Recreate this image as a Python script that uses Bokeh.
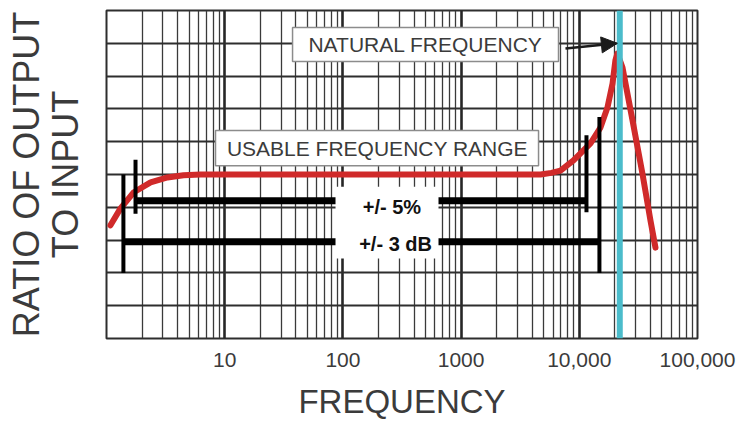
from bokeh.plotting import figure
from bokeh.models import FixedTicker, LinearAxis, Span, Arrow, NormalHead
from bokeh.core.properties import value
from bokeh.embed import file_html
from bokeh.resources import INLINE

# Accelerometer response: frequency (Hz) vs ratio of output to input
freq = [1.08, 1.31, 1.69, 2.36, 3.28, 4.48, 6.24, 4700, 5800, 6930, 8930,
        12440, 15100, 17300, 19100, 20200, 21000, 23200, 28200, 34200,
        40000, 44100]
ratio = [3.45, 3.96, 4.45, 4.76, 4.91, 4.98, 5.0, 5.0, 5.05, 5.12, 5.43,
         5.95, 6.43, 7.04, 7.77, 8.48, 8.69, 8.26, 6.65, 5.03, 3.60, 2.77]

natural_freq = 22000

# Tolerance bands: level of the bar, frequency span, and end-marker extents
tol_labels = ["+/- 5%", "+/- 3 dB"]
tol_level = [4.2, 2.95]
tol_start = [1.76, 1.39]
tol_end = [11500, 14800]
tol_start_lo = [3.8, 2.0]
tol_start_hi = [5.45, 5.0]
tol_end_lo = [3.85, 2.0]
tol_end_hi = [6.2, 6.75]

x_ticks = [10, 100, 1000, 10000, 100000]
x_tick_labels = ["10", "100", "1000", "10,000", "100,000"]
decades = [1, 10, 100, 1000, 10000, 100000]
minor_freqs = [m * d for d in decades[:-1] for m in range(2, 10)]
ratio_grid = list(range(0, 11))

TEXT = "#3b3b3b"
SANS = "Liberation Sans"

p = figure(width=747, height=423, x_axis_type="log",
           x_range=(1, 100000), y_range=(0, 10),
           y_axis_location=None, toolbar_location=None,
           output_backend="svg",
           min_border_left=106, min_border_right=50,
           min_border_top=10, min_border_bottom=85)
p.background_fill_color = "white"
p.border_fill_color = "white"
p.outline_line_color = "#2e2e2e"
p.outline_line_width = 2

# log-paper grid
p.xgrid.ticker = FixedTicker(ticks=decades, minor_ticks=minor_freqs)
p.xgrid.grid_line_color = "#262626"
p.xgrid.grid_line_width = 2.6
p.xgrid.minor_grid_line_color = "#3a3a3a"
p.xgrid.minor_grid_line_width = 1.3
p.ygrid.ticker = FixedTicker(ticks=ratio_grid)
p.ygrid.grid_line_color = "#2e2e2e"
p.ygrid.grid_line_width = 1.8

ax = p.xaxis[0]
ax.ticker = FixedTicker(ticks=x_ticks)
ax.major_label_overrides = dict(zip(x_ticks, x_tick_labels))
ax.axis_line_color = None
ax.major_tick_line_color = None
ax.minor_tick_line_color = None
ax.major_tick_out = 0
ax.major_tick_in = 0
ax.major_label_standoff = 14
ax.major_label_text_font = SANS
ax.major_label_text_font_size = "21px"
ax.major_label_text_color = TEXT
ax.axis_label = "FREQUENCY"
ax.axis_label_standoff = 13
ax.axis_label_text_font = SANS
ax.axis_label_text_font_size = "33px"
ax.axis_label_text_font_style = "normal"
ax.axis_label_text_color = TEXT

# left axis carries only the two-line title
yax = LinearAxis(ticker=FixedTicker(ticks=[]),
                 axis_label="RATIO OF OUTPUT\nTO INPUT")
yax.axis_line_color = None
yax.major_tick_line_color = None
yax.minor_tick_line_color = None
yax.major_tick_out = 0
yax.major_tick_in = 0
yax.major_label_standoff = 0
yax.axis_label_standoff = 21
yax.axis_label_text_font = SANS
yax.axis_label_text_font_size = "36px"
yax.axis_label_text_font_style = "normal"
yax.axis_label_text_color = TEXT
yax.axis_label_text_line_height = 0.93
p.add_layout(yax, "left")

# response curve
p.line(freq, ratio, line_color="#d02a2a", line_width=6, line_cap="round",
       line_join="round")

# tolerance bars with end markers
p.segment(x0=tol_start, y0=tol_level, x1=tol_end, y1=tol_level,
          line_color="black", line_width=7)
p.segment(x0=tol_start, y0=tol_start_lo, x1=tol_start, y1=tol_start_hi,
          line_color="black", line_width=4)
p.segment(x0=tol_end, y0=tol_end_lo, x1=tol_end, y1=tol_end_hi,
          line_color="black", line_width=4)
p.quad(left=[86.6], right=[644], bottom=[2.44], top=[4.63],
       fill_color="white", line_color=None)
p.text(x=[260, 279], y=[4.02, 2.88], text=tol_labels,
       text_font=value(SANS), text_font_style="bold",
       text_font_size="20px", text_color="#111111",
       text_align="center", text_baseline="middle")

# callout boxes
p.quad(left=[37.5, 8.36], right=[6670, 4520], bottom=[8.445, 5.27],
       top=[9.48, 6.34], fill_color="white", line_color="#8c8c8c",
       line_width=1.5)
p.text(x=[500, 196], y=[8.96, 5.79],
       text=["NATURAL FREQUENCY", "USABLE FREQUENCY RANGE"],
       text_font=value(SANS), text_font_size="21px", text_color=TEXT,
       text_align="center", text_baseline="middle")

# natural frequency marker
p.add_layout(Span(location=natural_freq, dimension="height",
                  line_color="#4bbccb", line_width=6))
p.add_layout(Arrow(end=NormalHead(size=16, fill_color="#1a1a1a",
                                  line_color="#1a1a1a"),
                   x_start=7640, y_start=8.84, x_end=21000, y_end=9.0,
                   line_color="#1a1a1a", line_width=2.5))

open("out.html", "w").write(file_html(p, INLINE))
